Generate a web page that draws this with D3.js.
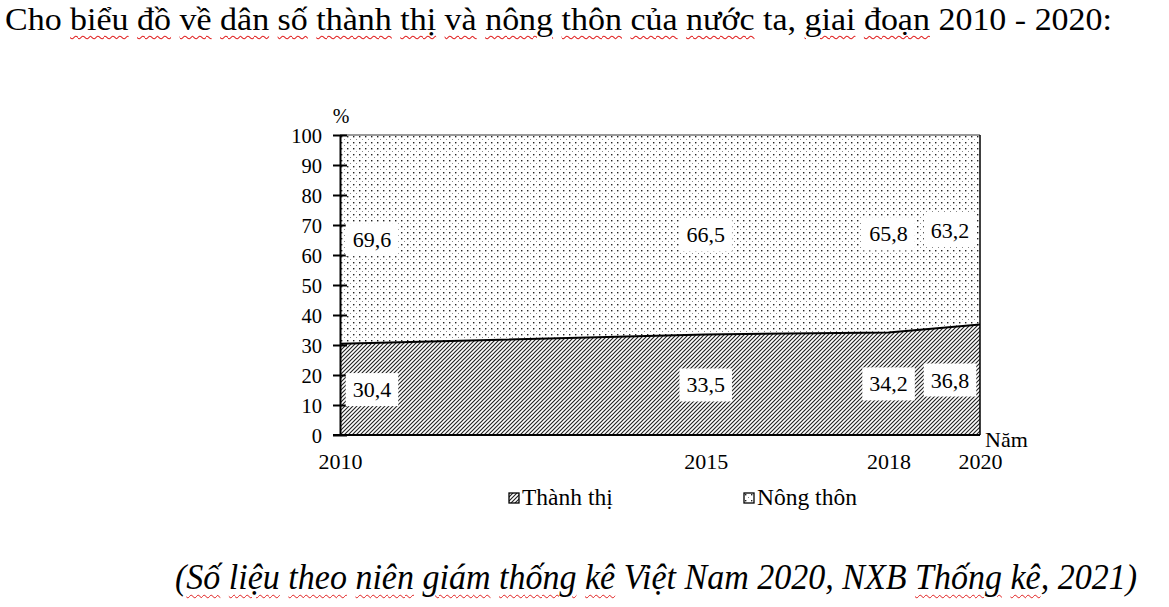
<!DOCTYPE html>
<html>
<head>
<meta charset="utf-8">
<script src="https://cdn.jsdelivr.net/npm/d3@7"></script>
<style>
  body { margin: 0; background: #fff; width: 1169px; height: 607px; overflow: hidden; position: relative; }
  .txt { position: absolute; font-family: "Liberation Serif", "Times New Roman", serif; color: #000; white-space: nowrap; }
  .sp { text-decoration: underline wavy #e02020; text-decoration-thickness: 1px; text-underline-offset: 5px; }
  #title { left: 5px; top: 1px; font-size: 32px; transform-origin: left top; }
  #note { left: 175px; top: 556px; font-size: 36px; font-style: italic; transform-origin: left top; }
  svg { position: absolute; left: 0; top: 0; }
</style>
</head>
<body>
<div id="title" class="txt"></div>
<div id="note" class="txt"></div>
<svg id="chart" width="1169" height="607"></svg>
<script>
let years = [2010, 2015, 2018, 2020];
let yearSteps = [0, 4, 6, 7];   // uneven category spacing as in the original
let urban = [30.4, 33.5, 34.2, 36.8];
let rural = [69.6, 66.5, 65.8, 63.2];
let yTicks = [0, 10, 20, 30, 40, 50, 60, 70, 80, 90, 100];
let seriesNames = ["Thành thị", "Nông thôn"];

let titleWords = [["Cho", 0], ["biểu", 1], ["đồ", 1], ["về", 1], ["dân", 1], ["số", 1], ["thành", 1], ["thị", 1],
  ["và", 1], ["nông", 1], ["thôn", 1], ["của", 1], ["nước", 1], ["ta,", 0], ["giai", 1], ["đoạn", 1],
  ["2010", 0], ["-", 0], ["2020:", 0]];
let noteWords = [["(Số", 1], ["liệu", 1], ["theo", 1], ["niên", 1], ["giám", 1], ["thống", 1], ["kê", 1],
  ["Việt", 0], ["Nam", 0], ["2020,", 0], ["NXB", 0], ["Thống", 1], ["kê,", 1], ["2021)", 0]];

let serif = '"Liberation Serif", "Times New Roman", serif';

function fillWords(sel, words) {
  words.forEach((w, i) => {
    let word = w[0], under = w[1];
    // keep brackets/commas outside the squiggle
    let pre = "", post = "";
    if (word.startsWith("(")) { pre = "("; word = word.slice(1); }
    if (/[,)]$/.test(word)) { post = word.slice(-1); word = word.slice(0, -1); }
    if (pre) sel.append("span").text(pre);
    sel.append("span").attr("class", under ? "sp" : null).text(word);
    if (post) sel.append("span").text(post);
    if (i < words.length - 1) sel.append("span").text(" ");
  });
}

fillWords(d3.select("#title"), titleWords);
fillWords(d3.select("#note"), noteWords);

// squeeze the texts to the widths they take in the source
function fitWidth(id, target) {
  let w = document.getElementById(id).getBoundingClientRect().width;
  d3.select("#" + id).style("transform", `scaleX(${target / w})`);
}
fitWidth("title", 1107);
fitWidth("note", 962);

let margin = { left: 340, top: 135, right: 189, bottom: 172 };
let width = 1169 - margin.left - margin.right;
let height = 607 - margin.top - margin.bottom;

let svg = d3.select("#chart");
let defs = svg.append("defs");

let hatch = defs.append("pattern")
  .attr("id", "hatch")
  .attr("patternUnits", "userSpaceOnUse")
  .attr("width", 4).attr("height", 4);
hatch.append("path")
  .attr("d", "M-1,1 l2,-2 M0,4 l4,-4 M3,5 l2,-2")
  .attr("stroke", "#222")
  .attr("stroke-width", 1.15);

let dots = defs.append("pattern")
  .attr("id", "dots")
  .attr("patternUnits", "userSpaceOnUse")
  .attr("width", 6).attr("height", 6);
dots.append("rect").attr("x", 1).attr("y", 1).attr("width", 1.4).attr("height", 1.4).attr("fill", "#222");
dots.append("rect").attr("x", 4).attr("y", 4).attr("width", 1).attr("height", 1).attr("fill", "#888");

let g = svg.append("g").attr("transform", `translate(${margin.left},${margin.top})`);

let x = d3.scaleLinear()
  .domain(years)
  .range(yearSteps.map(s => s / yearSteps[yearSteps.length - 1] * width));
let y = d3.scaleLinear().domain([0, 100]).range([height, 0]);

let data = years.map((yr, i) => ({ year: yr, urban: urban[i], rural: rural[i] }));

let areaUrban = d3.area().x(d => x(d.year)).y0(y(0)).y1(d => y(d.urban));
let areaRural = d3.area().x(d => x(d.year)).y0(d => y(d.urban)).y1(d => y(d.urban + d.rural));

g.append("path").datum(data).attr("d", areaRural).attr("fill", "url(#dots)");
g.append("path").datum(data).attr("d", areaUrban).attr("fill", "url(#hatch)");

// boundary line
g.append("path").datum(data)
  .attr("d", d3.line().x(d => x(d.year)).y(d => y(d.urban)))
  .attr("fill", "none")
  .attr("stroke", "#000")
  .attr("stroke-width", 2);

// frame: top grey, right black
g.append("line").attr("x1", 0).attr("x2", width).attr("y1", y(100)).attr("y2", y(100))
  .attr("stroke", "#777").attr("stroke-width", 1.5);
g.append("line").attr("x1", width).attr("x2", width).attr("y1", y(100)).attr("y2", y(0))
  .attr("stroke", "#000").attr("stroke-width", 1.5);

// y axis
let yAxis = g.append("g")
  .call(d3.axisLeft(y).tickValues(yTicks).tickSize(7).tickSizeOuter(0).tickPadding(11))
  .attr("font-family", null).attr("font-size", null);
yAxis.select(".domain").attr("stroke", "#000").attr("stroke-width", 2);
yAxis.selectAll(".tick line").attr("x1", 7).attr("stroke-width", 2);
yAxis.selectAll(".tick text").style("font-family", serif).style("font-size", "20.5px").attr("dy", "0.35em");

// x axis
let xAxis = g.append("g")
  .attr("transform", `translate(0,${height})`)
  .call(d3.axisBottom(x).tickValues(years).tickFormat(d3.format("d")).tickSize(0).tickPadding(18))
  .attr("font-family", null).attr("font-size", null);
xAxis.select(".domain").attr("stroke", "#000").attr("stroke-width", 2).attr("d", `M-7,0H${width}`);
xAxis.selectAll(".tick text").style("font-family", serif).style("font-size", "22px");

g.append("text").attr("x", 1).attr("y", -12).attr("text-anchor", "middle")
  .style("font-family", serif).style("font-size", "20px").text("%");
g.append("text").attr("x", width + 5).attr("y", height + 12)
  .style("font-family", serif).style("font-size", "22px").text("Năm");

// value labels on white boxes
let fmt = v => String(v).replace(".", ",");
function labelX(i) {
  if (i === 0) return x(years[i]) + 32;
  if (i === years.length - 1) return x(years[i]) - 30;
  return x(years[i]);
}
let labels = [];
data.forEach((d, i) => {
  labels.push({ x: labelX(i), y: y(d.urban / 2), t: fmt(d.urban) });
  labels.push({ x: labelX(i), y: y(d.urban + d.rural / 2), t: fmt(d.rural) });
});
let lab = g.selectAll(".lab").data(labels).enter().append("g").attr("class", "lab")
  .attr("transform", d => `translate(${d.x},${d.y})`);
lab.append("rect").attr("fill", "#fff");
lab.append("text").attr("text-anchor", "middle").attr("dy", "0.35em")
  .style("font-family", serif).style("font-size", "22px").text(d => d.t);
lab.each(function() {
  let bb = d3.select(this).select("text").node().getBBox();
  d3.select(this).select("rect")
    .attr("x", bb.x - 7).attr("y", bb.y - 4)
    .attr("width", bb.width + 14).attr("height", bb.height + 8);
});

// legend
let legend = svg.append("g").attr("transform", "translate(509,493)");
let legItems = legend.selectAll("g").data(seriesNames).enter().append("g")
  .attr("transform", (d, i) => `translate(${i * 235},0)`);
legItems.append("rect").attr("width", 10).attr("height", 10)
  .attr("fill", (d, i) => i === 0 ? "url(#hatch)" : "url(#dots)")
  .attr("stroke", "#000").attr("stroke-width", 1.3);
legItems.append("text").attr("x", 13).attr("y", 12)
  .style("font-family", serif).style("font-size", "23.5px").text(d => d);
</script>
</body>
</html>
